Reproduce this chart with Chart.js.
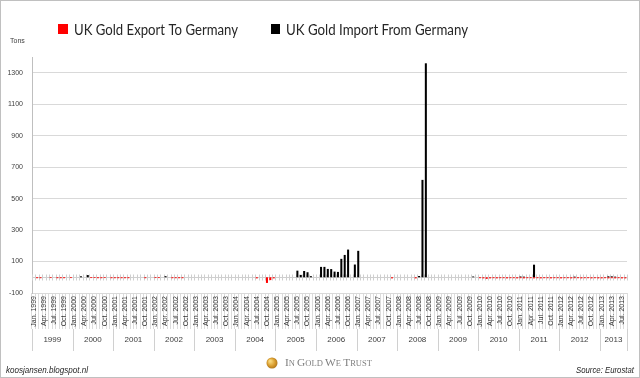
<!DOCTYPE html>
<html><head><meta charset="utf-8">
<script src="https://cdn.jsdelivr.net/npm/chart.js@4.4.1/dist/chart.umd.min.js"></script>
<style>html,body{margin:0;padding:0;background:#fff}#wrap{width:640px;height:378px;position:relative}</style>
</head><body><div id="wrap"><canvas id="c" width="640" height="378"></canvas></div>
<script>
const monthNames = ['Jan.','Feb.','Mar.','Apr.','May.','Jun.','Jul.','Aug.','Sep.','Oct.','Nov.','Dec.'];
const years = [1999,2000,2001,2002,2003,2004,2005,2006,2007,2008,2009,2010,2011,2012,2013];
const monthsInLastYear = 8;
const yTicks = [-100,100,300,500,700,900,1100,1300];
const seriesNames = ['UK Gold Export To Germany','UK Gold Import From Germany'];

const exportValues = [
  0,-6,-6,0,0,-5,0,-6,-6,-6,0,-5,        // 1999
  0,0,0,0,0,-5,-5,-6,-6,-5,0,-6,         // 2000
  -6,-6,-6,-6,-6,0,0,0,0,-6,0,0,         // 2001
  -5,-5,0,0,0,-6,-6,-6,-6,0,0,0,         // 2002
  0,0,0,0,0,0,0,0,0,0,0,0,               // 2003
  0,0,0,0,0,0,-7,0,0,-36,-18,-7,         // 2004
  0,0,0,0,0,0,0,0,0,0,0,0,               // 2005
  0,0,0,0,0,0,0,0,0,0,0,0,               // 2006
  0,0,0,0,0,0,0,0,0,0,-7,0,              // 2007
  0,0,0,0,0,-7,0,0,0,0,0,0,              // 2008
  0,0,0,0,0,0,0,0,0,0,0,0,               // 2009
  -6,-7,-10,-7,-6,-7,-6,-6,-7,-6,-6,-7,  // 2010
  -6,-7,-6,-6,-7,-6,-7,-6,-6,-7,-6,-6,   // 2011
  -7,-6,-6,-7,-6,-6,-7,-6,-6,-7,-6,-7,   // 2012
  -7,-6,-7,-6,-7,-6,-7,-7                // 2013
];
const importValues = [
  0,0,0,0,0,0,0,0,0,0,0,0,               // 1999
  0,0,6,0,14,0,0,0,0,0,0,0,              // 2000
  0,0,0,0,0,0,0,0,0,0,0,0,               // 2001
  0,0,0,7,0,0,0,0,0,0,0,0,               // 2002
  0,0,0,0,0,0,0,0,0,0,0,0,               // 2003
  0,0,0,0,0,0,0,0,0,0,0,0,               // 2004
  0,0,0,0,0,0,42,15,40,32,7,0,           // 2005
  0,66,66,53,52,36,34,117,142,176,0,81,  // 2006
  168,0,0,0,0,0,0,0,0,0,0,0,             // 2007
  0,0,0,0,0,0,8,619,1360,0,0,0,          // 2008
  0,0,0,0,0,0,0,0,0,0,5,0,               // 2009
  0,0,0,0,0,0,0,0,0,0,0,0,               // 2010
  5,4,0,0,80,0,0,0,0,0,0,0,              // 2011
  0,0,0,0,4,0,0,0,0,0,0,0,               // 2012
  0,0,6,6,4,0,0,0                        // 2013
];

const categories = [];
years.forEach((y, yi) => {
  const n = (yi === years.length - 1) ? monthsInLastYear : 12;
  for (let m = 0; m < n; m++) categories.push(monthNames[m] + ' ' + y);
});

function fitText(ctx, text, x, y, targetW, font, align) {
  ctx.font = font;
  const w = ctx.measureText(text).width;
  const sx = targetW / w;
  ctx.save();
  ctx.translate(x, y);
  ctx.scale(sx, 1);
  ctx.textAlign = 'left';
  ctx.fillText(text, align === 'right' ? -w : 0, 0);
  ctx.restore();
}

const decor = {
  id: 'decor',
  beforeDatasetsDraw(chart) {
    const ctx = chart.ctx, xs = chart.scales.x, ys = chart.scales.y;
    const y0 = Math.round(ys.getPixelForValue(0)) + 0.5;
    const w = xs.getPixelForValue(1) - xs.getPixelForValue(0);
    ctx.save();
    ctx.strokeStyle = '#cfcfcf';
    ctx.lineWidth = 1;
    ctx.beginPath();
    ctx.moveTo(chart.chartArea.left, y0);
    ctx.lineTo(chart.chartArea.right, y0);
    for (let i = 0; i <= categories.length; i++) {
      const x = Math.round(xs.getPixelForValue(0) - w / 2 + i * w) + 0.5;
      ctx.moveTo(x, y0 - 3);
      ctx.lineTo(x, y0 + 3);
    }
    ctx.stroke();
    ctx.restore();
  },
  afterDraw(chart) {
    const ctx = chart.ctx, xs = chart.scales.x;
    const w = xs.getPixelForValue(1) - xs.getPixelForValue(0);
    ctx.save();
    // year row
    ctx.strokeStyle = '#d0d0d0';
    ctx.lineWidth = 1;
    ctx.fillStyle = '#404040';
    ctx.font = '8px "Liberation Sans"';
    ctx.textAlign = 'center';
    ctx.textBaseline = 'middle';
    let idx = 0;
    const rowTop = xs.top + 36, rowBot = xs.top + 58;
    ctx.beginPath();
    years.forEach((y, yi) => {
      const n = (yi === years.length - 1) ? monthsInLastYear : 12;
      const x1 = xs.getPixelForValue(idx) - w / 2;
      const x2 = xs.getPixelForValue(idx + n - 1) + w / 2;
      const xl = Math.round(x1) + 0.5;
      ctx.moveTo(xl, rowTop); ctx.lineTo(xl, rowBot);
      if (yi === years.length - 1) { const xr = Math.round(x2) + 0.5; ctx.moveTo(xr, rowTop); ctx.lineTo(xr, rowBot); }
      ctx.fillText(String(y), (x1 + x2) / 2, xs.top + 47);
      idx += n;
    });
    ctx.stroke();

    // Tons
    ctx.textAlign = 'left';
    ctx.textBaseline = 'alphabetic';
    ctx.font = '7px "Liberation Sans"';
    ctx.fillStyle = '#404040';
    ctx.fillText('Tons', 10, 43);

    // legend
    ctx.fillStyle = '#ff0000';
    ctx.fillRect(58, 24, 10, 10);
    ctx.fillStyle = '#000000';
    ctx.fillRect(271, 24, 9, 10);
    ctx.fillStyle = '#262626';
    fitText(ctx, seriesNames[0], 74, 35, 164, '15.5px Lato');
    fitText(ctx, seriesNames[1], 286, 35, 182, '15.5px Lato');

    // footer
    ctx.fillStyle = '#262626';
    fitText(ctx, 'koosjansen.blogspot.nl', 6, 373, 82, 'italic 9px "Liberation Sans"');
    fitText(ctx, 'Source: Eurostat', 634, 373, 58, 'italic 9px "Liberation Sans"', 'right');

    // coin
    const g = ctx.createRadialGradient(270, 361, 1, 272, 363, 6);
    g.addColorStop(0, '#f7d67a');
    g.addColorStop(0.6, '#d79a2b');
    g.addColorStop(1, '#a8701a');
    ctx.fillStyle = g;
    ctx.beginPath(); ctx.arc(272, 363, 5.5, 0, Math.PI * 2); ctx.fill();

    // In Gold We Trust (small caps)
    const parts = [['I',10],['N ',7.5],['G',10],['OLD ',7.5],['W',10],['E ',7.5],['T',10],['RUST',7.5]];
    let total = 0;
    parts.forEach(p => { ctx.font = p[1] + 'px "Liberation Serif"'; total += ctx.measureText(p[0]).width; });
    const sx = 87 / total;
    ctx.save();
    ctx.translate(285, 366);
    ctx.scale(sx, 1);
    ctx.fillStyle = '#7f7f7f';
    let cx = 0;
    parts.forEach(p => { ctx.font = p[1] + 'px "Liberation Serif"'; ctx.fillText(p[0], cx, 0); cx += ctx.measureText(p[0]).width; });
    ctx.restore();

    // border
    ctx.strokeStyle = '#c0c0c0';
    ctx.lineWidth = 1;
    ctx.strokeRect(0.5, 0.5, 639, 377);
    ctx.restore();
  }
};

new Chart(document.getElementById('c'), {
  type: 'bar',
  data: {
    labels: categories,
    datasets: [
      { label: seriesNames[0], data: exportValues, backgroundColor: '#ff0000', barPercentage: 0.6, categoryPercentage: 1 },
      { label: seriesNames[1], data: importValues, backgroundColor: '#000000', barPercentage: 0.6, categoryPercentage: 1 }
    ]
  },
  plugins: [decor],
  options: {
    responsive: false,
    animation: false,
    layout: { padding: { top: 57, right: 13, bottom: 45, left: 0 } },
    plugins: { legend: { display: false }, tooltip: { enabled: false } },
    scales: {
      x: {
        stacked: true,
        offset: true,
        grid: { offset: true, drawOnChartArea: false, drawTicks: true, tickLength: 36, color: '#dcdcdc', tickColor: '#dcdcdc' },
        border: { display: false },
        ticks: {
          autoSkip: false, maxRotation: 90, minRotation: 90, padding: -33,
          font: { size: 7, family: 'Liberation Sans' }, color: '#333333',
          callback: (v, i) => (i % 3 === 0 ? categories[i] : '')
        },
        afterFit: s => { s.height = 40; }
      },
      y: {
        stacked: true,
        min: -100, max: 1400,
        afterBuildTicks: s => { s.ticks = yTicks.map(v => ({ value: v })); },
        grid: { color: '#d9d9d9', drawTicks: false },
        border: { display: true, color: '#bfbfbf' },
        ticks: { padding: 9, font: { size: 7, family: 'Liberation Sans' }, color: '#404040', callback: v => String(v) },
        afterFit: s => { s.width = 32; }
      }
    }
  }
});
</script>
</body></html>
